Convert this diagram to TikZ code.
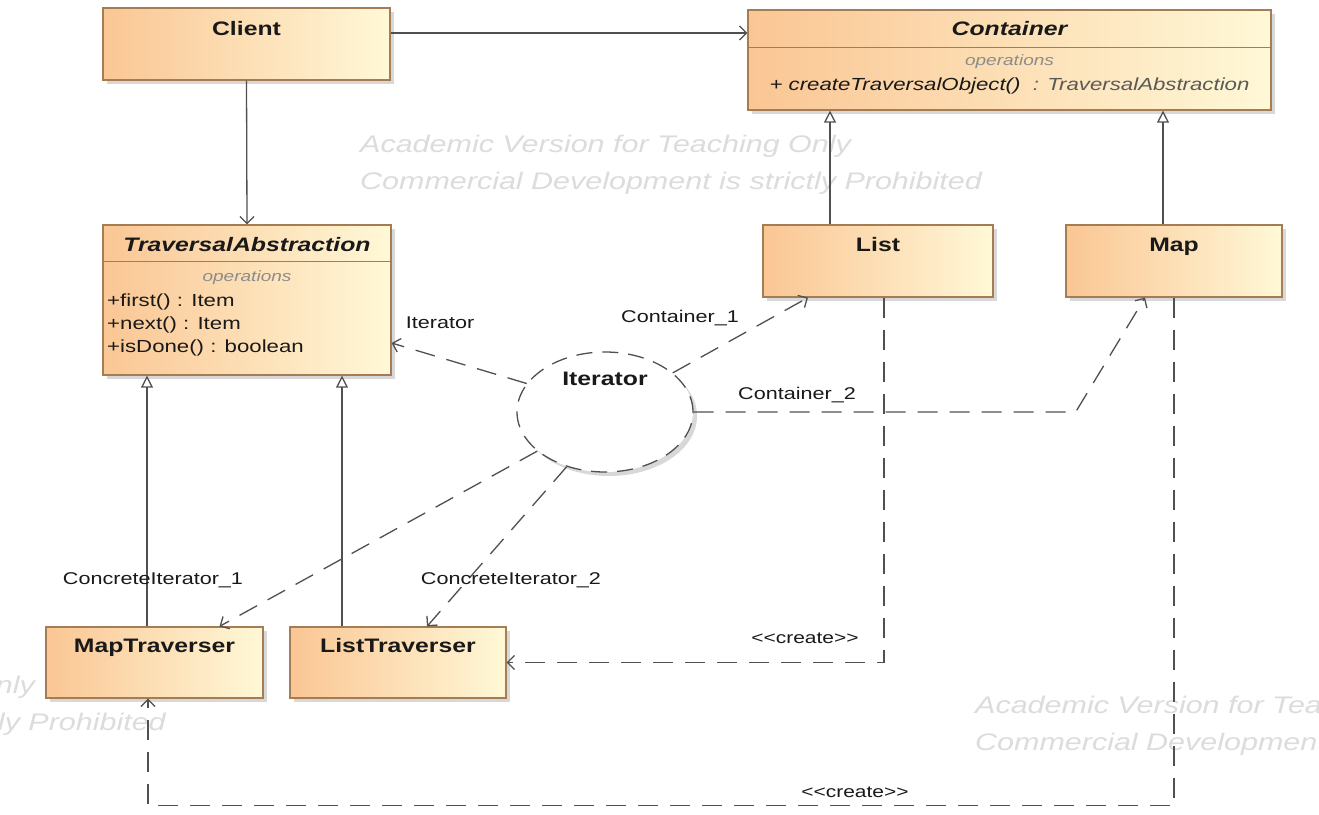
\documentclass[tikz,border=0pt]{standalone}
\usepackage{fontspec}
\setmainfont{Liberation Sans}[FakeStretch=1.27, Ligatures=TeXOff]
\usetikzlibrary{arrows.meta,shadows,shapes.geometric}
\definecolor{boxL}{RGB}{250,198,148}
\definecolor{boxR}{RGB}{255,248,215}
\definecolor{boxB}{RGB}{165,125,85}
\definecolor{lineC}{RGB}{80,80,80}
\definecolor{txtC}{RGB}{25,25,25}
\definecolor{opC}{RGB}{140,140,140}
\definecolor{wmC}{RGB}{220,220,220}
\tikzset{
  cls/.style={draw=boxB, line width=1.2pt, left color=boxL, right color=boxR, inner sep=0pt,
    drop shadow={shadow xshift=4pt, shadow yshift=-4pt, fill=black!30}},
  ttl/.style={inner sep=0pt, anchor=base, text=txtC, font=\fontsize{19.5}{22}\selectfont\bfseries},
  attl/.style={ttl, font=\fontsize{19.5}{22}\selectfont\bfseries\itshape},
  ops/.style={inner sep=0pt, text=opC, font=\fontsize{15}{17}\selectfont\itshape},
  mem/.style={inner sep=0pt, text=txtC, font=\fontsize{17.5}{20}\selectfont},
  lbl/.style={inner sep=0pt, text=txtC, font=\fontsize{17}{20}\selectfont},
  crt/.style={inner sep=0pt, text=txtC, font=\fontsize{16.5}{19}\selectfont},
  wm/.style={inner sep=0pt, text=wmC, font=\fontsize{24}{28}\selectfont\itshape},
  divider/.style={draw=boxB, line width=1.2pt},
  assoc/.style={draw=lineC, line width=1.3pt, -{Straight Barb[length=7pt,width=14pt]}},
  gen/.style={draw=lineC, line width=1.3pt, -{Triangle[open,length=12pt,width=12pt,fill=white]}},
  role/.style={draw=lineC, line width=1.3pt, dash pattern=on 20pt off 12pt, -{Straight Barb[length=7pt,width=14pt]}},
  dep/.style={draw=lineC, line width=1.3pt, dash pattern=on 20pt off 12pt, -{Straight Barb[length=7pt,width=14pt]}},
  collab/.style={ellipse, draw=lineC, line width=1.3pt, dash pattern=on 16pt off 10pt, fill=white, inner sep=0pt,
    minimum width=176pt, minimum height=120pt,
    drop shadow={shadow xshift=4pt, shadow yshift=-4pt, fill=black!30}}
}
\begin{document}
\begin{tikzpicture}[x=1pt,y=-1pt]
\useasboundingbox (0,0) rectangle (1319,814);
\clip (0,0) rectangle (1319,814);
\fill[white] (0,0) rectangle (1319,814);

% watermarks
\node[wm, anchor=base west] (wa1) at (360,152) {Academic Version for Teaching Only};
\node[wm, anchor=base west] (wa2) at (360,189) {Commercial Development is strictly Prohibited};
\node[wm, anchor=base east] (wb2) at (166,730) {Commercial Development is strictly Prohibited};
\node[wm, anchor=base west] (wb1) at ([yshift=37pt]wb2.base west) {Academic Version for Teaching Only};
\node[wm, anchor=base west] (wc1) at (975,713) {Academic Version for Teaching Only};
\node[wm, anchor=base west] (wc2) at (975,750) {Commercial Development is strictly Prohibited};

% classes
\node[cls, minimum width=287pt, minimum height=72pt] (client) at (246.5,44) {};
\node[ttl] (clientT) at (246.5,35) {Client};

\node[cls, minimum width=523pt, minimum height=100pt] (container) at (1009.5,60) {};
\draw[divider] ([yshift=-38pt]container.north west) -- ([yshift=-38pt]container.north east);
\node[attl] (containerT) at (1009.5,35) {Container};
\node[ops] (containerO) at (1009.5,62) {operations};
\node[mem, font=\fontsize{17.5}{20}\selectfont\itshape] (containerM) at (1009.5,86)
  {+ createTraversalObject()\ \ {\color{black!65}: TraversalAbstraction}};

\node[cls, minimum width=288pt, minimum height=150pt] (ta) at (247,300) {};
\draw[divider] ([yshift=-37pt]ta.north west) -- ([yshift=-37pt]ta.north east);
\node[attl] (taT) at (247,251) {TraversalAbstraction};
\node[ops] (taO) at (247,278) {operations};
\node[mem, anchor=west] (taM1) at (107,302) {+first() : Item};
\node[mem, anchor=west] (taM2) at (107,325) {+next() : Item};
\node[mem, anchor=west] (taM3) at (107,348) {+isDone() : boolean};

\node[cls, minimum width=230pt, minimum height=72pt] (list) at (878,261) {};
\node[ttl] (listT) at (878,251) {List};
\node[cls, minimum width=216pt, minimum height=72pt] (map) at (1174,261) {};
\node[ttl] (mapT) at (1174,251) {Map};
\node[cls, minimum width=217pt, minimum height=71pt] (mt) at (154.5,662.5) {};
\node[ttl] (mtT) at (154.5,652) {MapTraverser};
\node[cls, minimum width=216pt, minimum height=71pt] (lt) at (398,662.5) {};
\node[ttl] (ltT) at (398,652) {ListTraverser};

% collaboration
\node[collab] (iter) at (605,412) {};
\node[ttl] (iterT) at (605,385) {Iterator};

% associations
\coordinate (a1) at ([yshift=11pt]client.east);
\draw[assoc] (a1) -- (a1 -| container.west);
\draw[assoc] (client.south) -- (ta.north);

% generalizations
\coordinate (g1) at ([xshift=-48pt]list.north);
\draw[gen] (g1) -- (g1 |- container.south);
\coordinate (g2) at ([xshift=-11pt]map.north);
\draw[gen] (g2) -- (g2 |- container.south);
\coordinate (g3) at ([xshift=-7.5pt]mt.north);
\draw[gen] (g3) -- (g3 |- ta.south);
\coordinate (g4) at ([xshift=-56pt]lt.north);
\draw[gen] (g4) -- (g4 |- ta.south);

% role bindings
\coordinate (r1) at ([yshift=-43pt]ta.east);
\draw[role] (iter.160) -- (r1);
\node[lbl] (r1L) at (440,323) {Iterator};
\coordinate (r2) at ([xshift=-70pt]list.south);
\draw[role] (iter.30) -- (r2);
\node[lbl] (r2L) at (680,318) {Container\_1};
\coordinate (r3) at ([xshift=-29pt]map.south);
\draw[role] (iter.east) -- ++(382,0) -- (r3);
\node[lbl] (r3L) at (797,395) {Container\_2};
\coordinate (r4) at ([xshift=65pt]mt.north);
\draw[role] (iter.210) -- (r4);
\node[lbl] (r4L) at (153,580) {ConcreteIterator\_1};
\coordinate (r5) at ([xshift=29pt]lt.north);
\draw[role] (iter.235) -- (r5);
\node[lbl] (r5L) at (511,580) {ConcreteIterator\_2};

% create dependencies
\coordinate (d1) at ([xshift=6pt]list.south);
\draw[dep] (d1) -- (d1 |- lt.east) -- (lt.east);
\node[crt] (d1L) at (805,638) {<<create>>};
\coordinate (d2) at ([xshift=-6.5pt]mt.south);
\draw[dep] (map.south) -- ++(0,508) -| (d2);
\node[crt] (d2L) at (855,792) {<<create>>};
\end{tikzpicture}
\end{document}
